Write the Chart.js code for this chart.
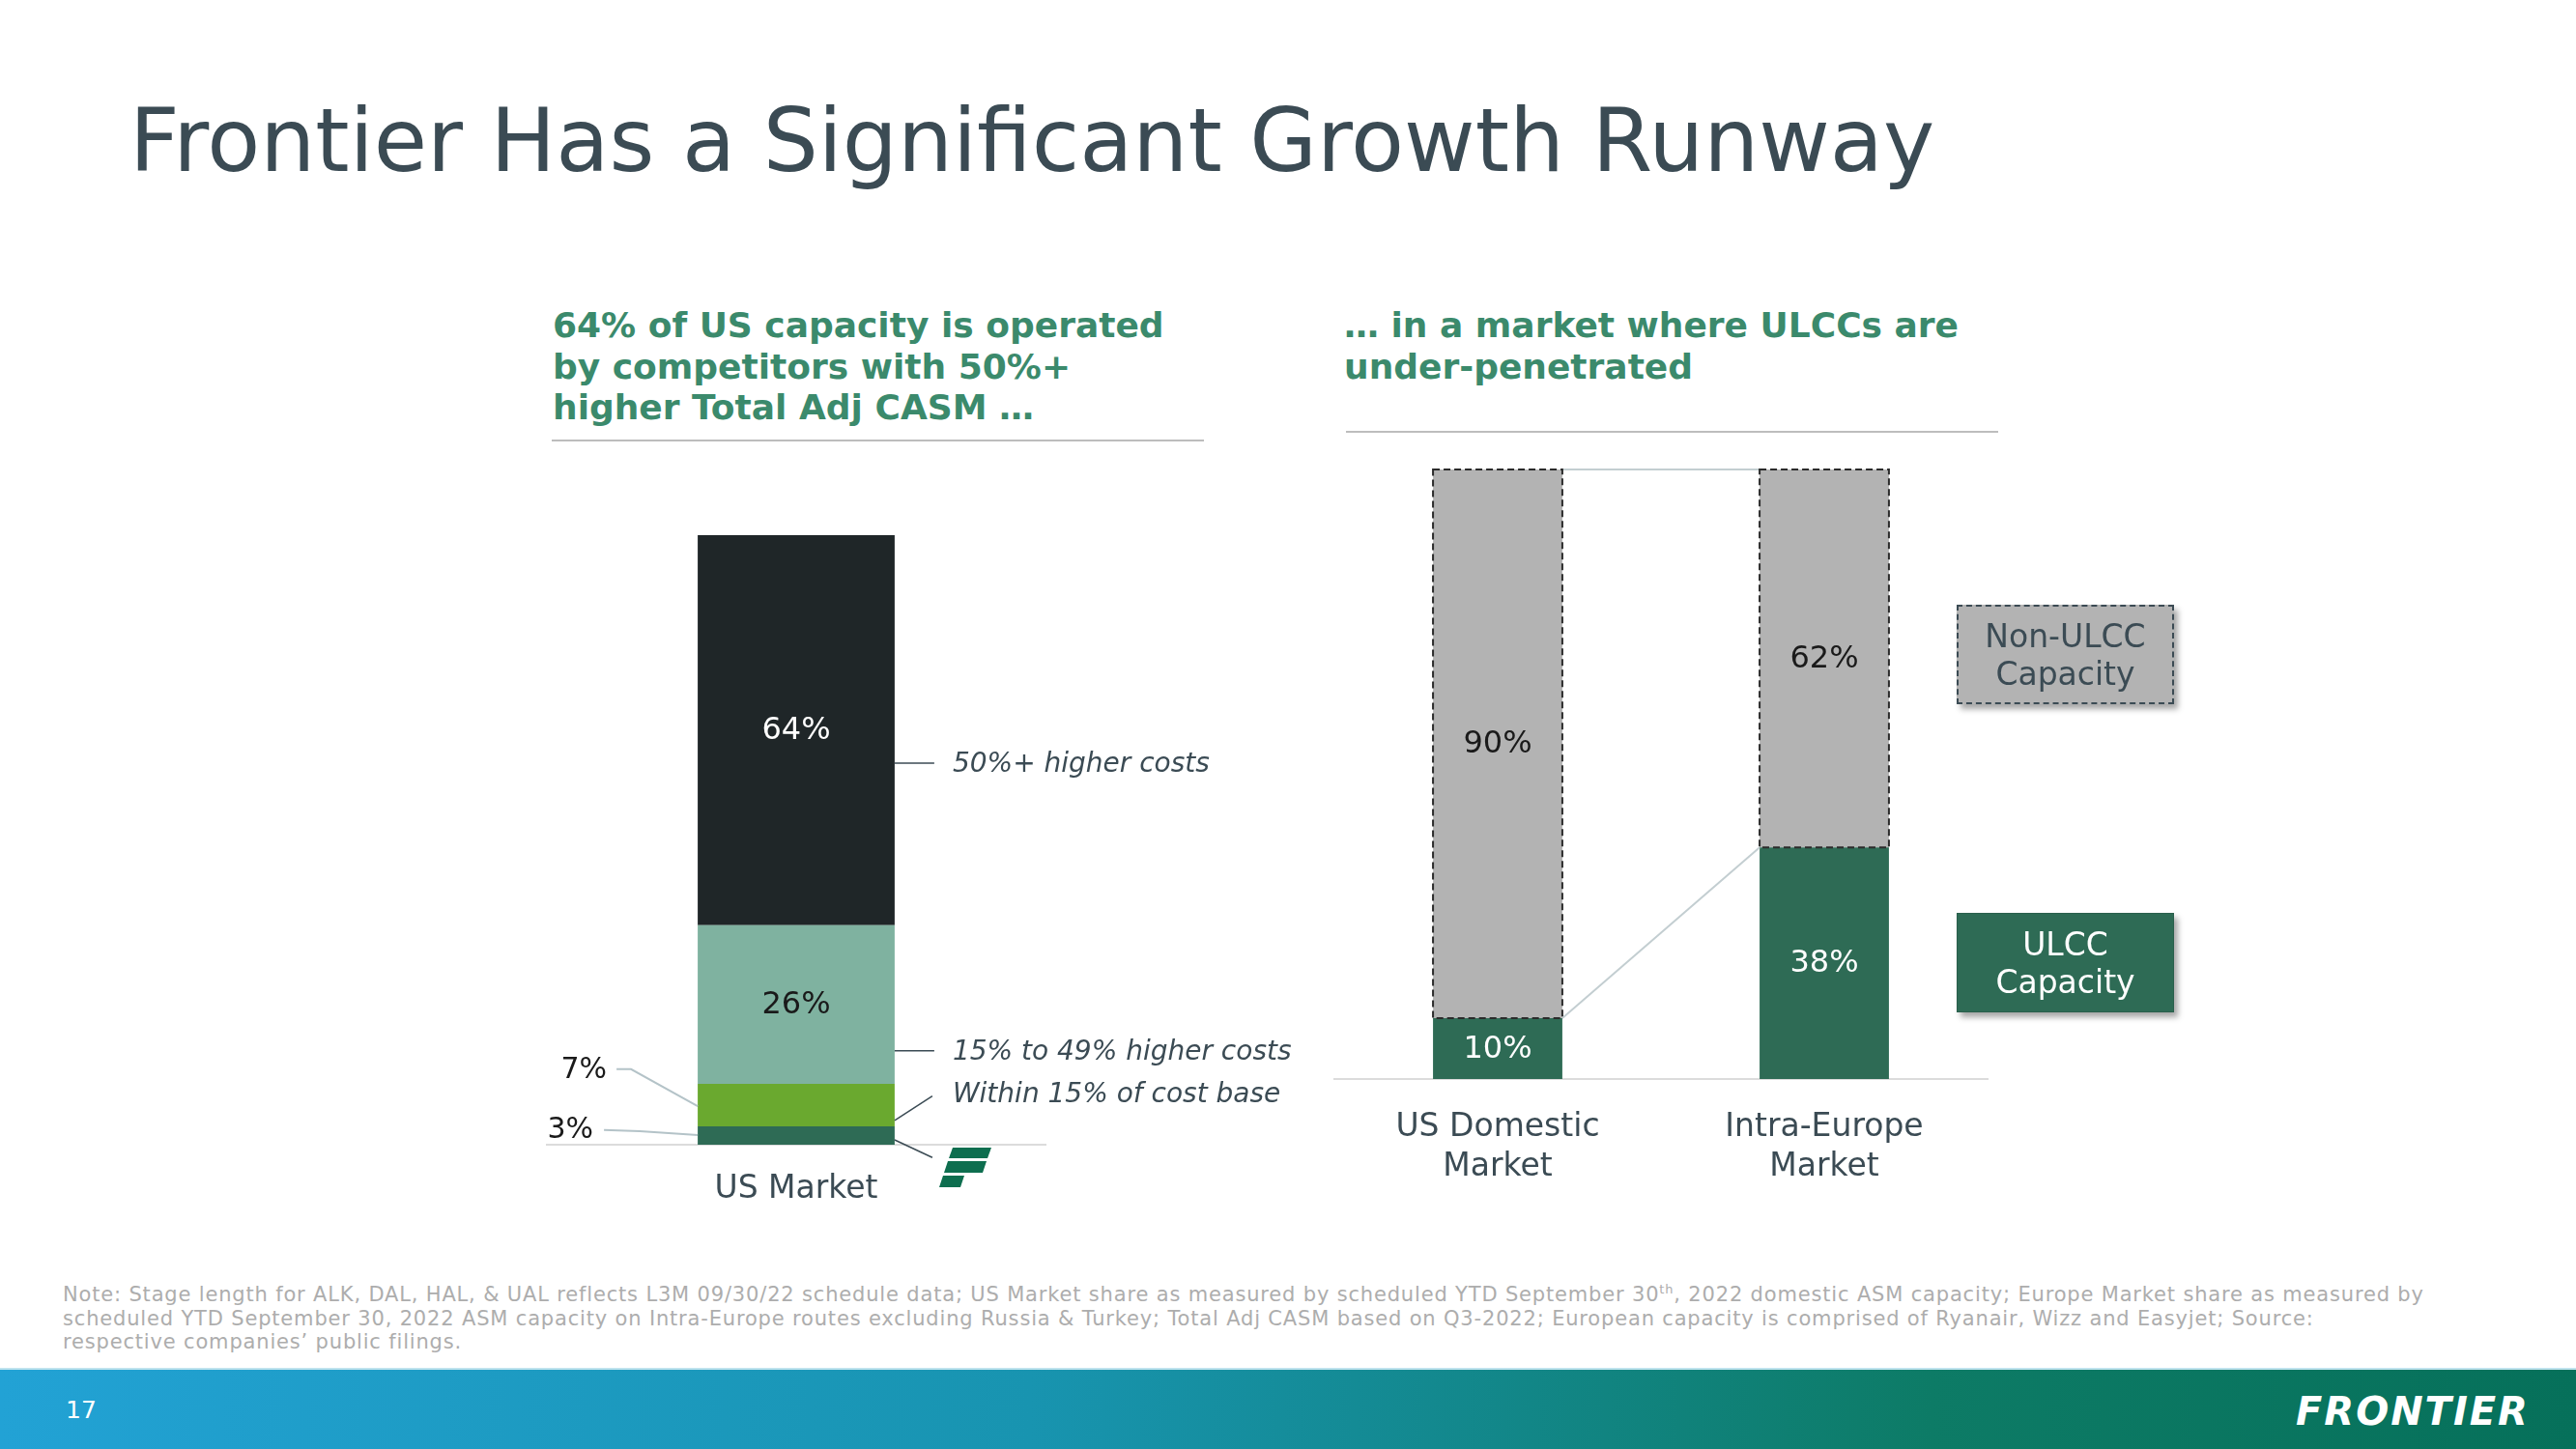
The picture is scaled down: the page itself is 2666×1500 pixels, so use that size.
<!DOCTYPE html>
<html>
<head>
<meta charset="utf-8">
<script src="https://cdn.jsdelivr.net/npm/chart.js@4.4.1/dist/chart.umd.min.js"></script>
<style>
  body { margin: 0; width: 2666px; height: 1500px; position: relative; background: #fff; overflow: hidden;
         font-family: "DejaVu Sans", Verdana, sans-serif; }
  .abs { position: absolute; line-height: 1; white-space: nowrap; }
  .head { color: #3b8a6c; font-weight: bold; font-size: 36px; line-height: 42.5px; }
  .rule { position: absolute; height: 2px; background: #bdbdbd; }
  .legend { position: absolute; width: 225px; height: 103px; box-sizing: border-box; display: flex;
            align-items: center; justify-content: center; text-align: center; font-size: 33px; line-height: 39px;
            box-shadow: 4px 5px 6px rgba(0,0,0,0.35); }
  .note { color: #adadad; font-size: 21px; line-height: 24px; letter-spacing: 0.83px; }
  canvas { position: absolute; }
</style>
</head>
<body>
<div class="abs" style="left:134px;top:101px;font-size:90px;color:#3b4b54">Frontier Has a Significant Growth Runway</div>

<div class="abs head" style="left:572px;top:316px">64% of US capacity is operated<br>by competitors with 50%+<br>higher Total Adj CASM …</div>
<div class="rule" style="left:571px;top:455px;width:675px"></div>
<div class="abs head" style="left:1391px;top:316px">… in a market where ULCCs are<br>under-penetrated</div>
<div class="rule" style="left:1393px;top:446px;width:675px"></div>

<canvas id="usChart" width="820" height="765" style="left:540px;top:500px"></canvas>
<canvas id="ulccChart" width="700" height="797" style="left:1370px;top:440px"></canvas>

<svg class="abs" style="left:970px;top:1186px" width="60" height="48">
  <polygon points="16,2 56,2 52,13 12,13" fill="#0e6e4f"/>
  <polygon points="11,16 51,16 47,28 7,28" fill="#0e6e4f"/>
  <polygon points="6,31 28,31 24,43 2,43" fill="#0e6e4f"/>
</svg>

<div class="legend" style="left:2025px;top:626px;background:#b3b3b3;border:2px dashed #3b4b54;color:#3b4b54">Non-ULCC<br>Capacity</div>
<div class="legend" style="left:2025px;top:945px;background:#2e6b55;border:1px solid #2a5f4c;color:#fff">ULCC<br>Capacity</div>

<div class="abs note" style="left:65px;top:1328px">Note: Stage length for ALK, DAL, HAL, &amp; UAL reflects L3M 09/30/22 schedule data; US Market share as measured by scheduled YTD September 30<sup style="font-size:13px;line-height:0">th</sup>, 2022 domestic ASM capacity; Europe Market share as measured by</div>
<div class="abs note" style="left:65px;top:1353px">scheduled YTD September 30, 2022 ASM capacity on Intra-Europe routes excluding Russia &amp; Turkey; Total Adj CASM based on Q3-2022; European capacity is comprised of Ryanair, Wizz and Easyjet; Source:</div>
<div class="abs note" style="left:65px;top:1377px">respective companies’ public filings.</div>

<div class="abs" style="left:0;top:1416px;width:2666px;height:84px;background:linear-gradient(90deg,#22a2d5 0%,#1894b0 40%,#0d7b66 75%,#06705a 100%)"></div>
<div class="abs" style="left:0;top:1416px;width:2666px;height:2px;background:#bfe3ee"></div>
<div class="abs" style="left:68px;top:1447px;font-size:25px;color:#fff">17</div>
<div class="abs" style="left:2376px;top:1441px;font-size:40px;font-weight:bold;font-style:italic;color:#fff;letter-spacing:2px">FRONTIER</div>

<script>
// left chart: US capacity share by cost level vs Frontier
const usCategories = ['US Market'];
const frontierShare = [3];
const within15Share = [7];
const higher15to49Share = [26];
const higher50PlusShare = [64];
const costLabels = ['50%+ higher costs', '15% to 49% higher costs', 'Within 15% of cost base'];

// right chart: ULCC vs non-ULCC capacity
const marketCategories = [['US Domestic', 'Market'], ['Intra-Europe', 'Market']];
const ulccShare = [10, 38];
const nonUlccShare = [90, 62];

const slate = '#3b4b54';

const pctLabels = {
  id: 'pctLabels',
  afterDatasetsDraw(chart) {
    const ctx = chart.ctx;
    ctx.save();
    ctx.font = '32px "DejaVu Sans"';
    ctx.textAlign = 'center';
    ctx.textBaseline = 'middle';
    chart.data.datasets.forEach((ds, i) => {
      if (!ds.labelColor) return;
      chart.getDatasetMeta(i).data.forEach((el, j) => {
        ctx.fillStyle = ds.labelColor;
        ctx.fillText(ds.data[j] + '%', el.x, (el.y + el.base) / 2 + 1);
      });
    });
    ctx.restore();
  }
};

const dashedBars = {
  id: 'dashedBars',
  afterDatasetsDraw(chart) {
    const ctx = chart.ctx;
    chart.data.datasets.forEach((ds, i) => {
      if (!ds.dashed) return;
      ctx.save();
      ctx.setLineDash([7, 4]);
      ctx.lineWidth = 2;
      ctx.strokeStyle = '#2b2b2b';
      chart.getDatasetMeta(i).data.forEach(el => {
        ctx.strokeRect(el.x - el.width / 2, el.y, el.width, el.base - el.y);
      });
      ctx.restore();
    });
  }
};

const seriesLines = {
  id: 'seriesLines',
  afterDatasetsDraw(chart) {
    const ctx = chart.ctx;
    ctx.save();
    ctx.strokeStyle = '#c3ced1';
    ctx.lineWidth = 2;
    chart.data.datasets.forEach((ds, i) => {
      const els = chart.getDatasetMeta(i).data;
      for (let j = 0; j < els.length - 1; j++) {
        const a = els[j], b = els[j + 1];
        ctx.beginPath();
        ctx.moveTo(a.x + a.width / 2, a.y);
        ctx.lineTo(b.x - b.width / 2, b.y);
        ctx.stroke();
      }
    });
    ctx.restore();
  }
};

const costNotes = {
  id: 'costNotes',
  afterDatasetsDraw(chart) {
    const ctx = chart.ctx, y = chart.scales.y;
    const bar = chart.getDatasetMeta(0).data[0];
    const right = bar.x + bar.width / 2, left = bar.x - bar.width / 2;
    const py = v => y.getPixelForValue(v);
    const seg = (pts) => {
      ctx.beginPath();
      ctx.moveTo(pts[0][0], py(pts[0][1]));
      pts.slice(1).forEach(p => ctx.lineTo(p[0], py(p[1])));
      ctx.stroke();
    };
    ctx.save();
    ctx.strokeStyle = slate;
    ctx.lineWidth = 1.5;
    seg([[right, 62.6], [right + 41, 62.6]]);
    seg([[right, 15.4], [right + 41, 15.4]]);
    seg([[right, 4.0], [right + 39, 8.0]]);
    seg([[right, 0.8], [right + 39, -2.1]]);
    ctx.font = 'italic 28px "DejaVu Sans"';
    ctx.fillStyle = slate;
    ctx.textAlign = 'left';
    ctx.textBaseline = 'middle';
    ctx.fillText(costLabels[0], right + 60, py(62.3));
    ctx.fillText(costLabels[1], right + 60, py(15.1));
    ctx.fillText(costLabels[2], right + 60, py(8.1));

    // small segments labelled outside on the left
    ctx.strokeStyle = '#b4c3c8';
    ctx.lineWidth = 2;
    seg([[left - 84, 12.4], [left - 69, 12.4], [left, 6.3]]);
    seg([[left - 97, 2.4], [left - 60, 2.2], [left, 1.6]]);
    ctx.font = '30px "DejaVu Sans"';
    ctx.fillStyle = '#1a1a1a';
    ctx.textAlign = 'right';
    ctx.fillText(within15Share[0] + '%', left - 94, py(12.2));
    ctx.fillText(frontierShare[0] + '%', left - 108, py(2.4));
    ctx.restore();
  }
};

const baseOptions = (padding, axisHeight, tickPad, barPct) => ({
  responsive: false,
  animation: false,
  layout: { padding },
  plugins: { legend: { display: false }, tooltip: { enabled: false } },
  datasets: { bar: { categoryPercentage: 1, barPercentage: barPct } },
  scales: {
    x: {
      stacked: true,
      grid: { display: false, drawTicks: false },
      border: { display: true, color: '#dcdcdc', width: 2 },
      ticks: { color: slate, font: { family: 'DejaVu Sans', size: 33, lineHeight: 1.24 }, padding: tickPad, maxRotation: 0 },
      afterFit: s => { s.height = axisHeight; }
    },
    y: { stacked: true, min: 0, max: 100, display: false }
  }
});

new Chart(document.getElementById('usChart'), {
  type: 'bar',
  data: {
    labels: usCategories,
    datasets: [
      { label: 'Frontier', data: frontierShare, backgroundColor: '#2e6b55' },
      { label: costLabels[2], data: within15Share, backgroundColor: '#6aa92f' },
      { label: costLabels[1], data: higher15to49Share, backgroundColor: '#7fb2a0', labelColor: '#1a1a1a' },
      { label: costLabels[0], data: higher50PlusShare, backgroundColor: '#1f2628', labelColor: '#ffffff' }
    ]
  },
  options: baseOptions({ left: 26, right: 278, top: 54, bottom: 0 }, 80, 26, 0.395),
  plugins: [pctLabels, costNotes]
});

new Chart(document.getElementById('ulccChart'), {
  type: 'bar',
  data: {
    labels: marketCategories,
    datasets: [
      { label: 'ULCC Capacity', data: ulccShare, backgroundColor: '#2e6b55', labelColor: '#ffffff' },
      { label: 'Non-ULCC Capacity', data: nonUlccShare, backgroundColor: '#b3b3b3', labelColor: '#1a1a1a', dashed: true }
    ]
  },
  options: baseOptions({ left: 11, right: 13, top: 46, bottom: 0 }, 120, 30, 0.396),
  plugins: [seriesLines, dashedBars, pctLabels]
});
</script>
</body>
</html>
